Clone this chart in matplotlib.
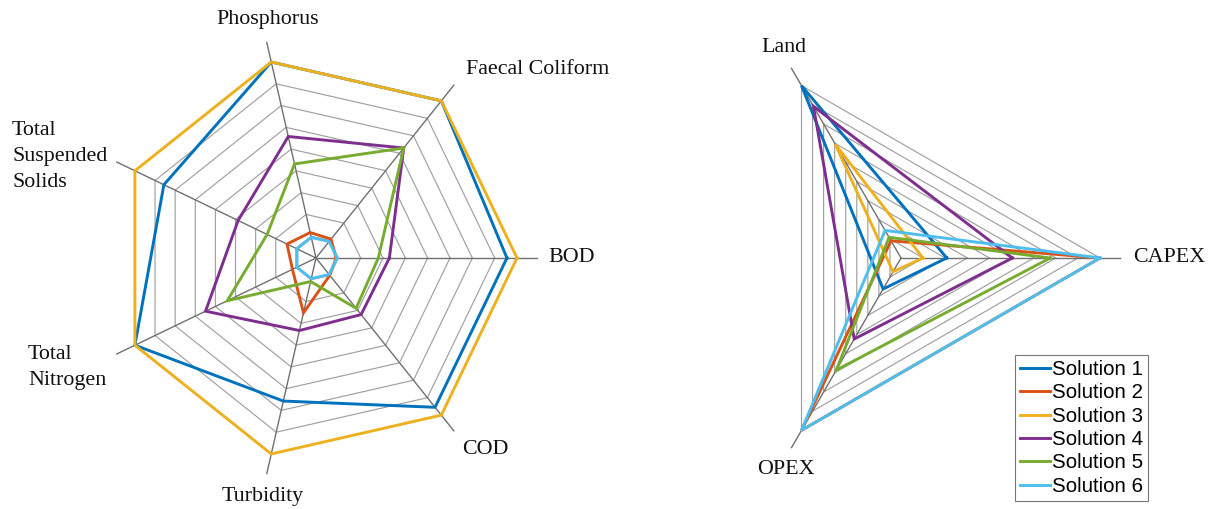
import numpy as np
import matplotlib
matplotlib.use("Agg")
import matplotlib.pyplot as plt

# left chart: water quality parameters
wq_labels = ["BOD", "Faecal Coliform", "Phosphorus", "Total\nSuspended\nSolids",
             "Total\nNitrogen", "Turbidity", "COD"]
wq_sol1 = [0.95, 1.00, 1.00, 0.84, 1.00, 0.73, 0.95]
wq_sol2 = [0.10, 0.12, 0.13, 0.16, 0.13, 0.28, 0.11]
wq_sol3 = [1.00, 1.00, 1.00, 1.00, 1.00, 1.00, 1.00]
wq_sol4 = [0.365, 0.70, 0.62, 0.43, 0.61, 0.37, 0.36]
wq_sol5 = [0.31, 0.70, 0.48, 0.27, 0.49, 0.12, 0.32]
wq_sol6 = [0.105, 0.105, 0.105, 0.105, 0.105, 0.105, 0.105]

# right chart: cost / land
cost_labels = ["CAPEX", "Land", "OPEX"]
cost_sol1 = [0.23, 1.00, 0.18]
cost_sol2 = [1.00, 0.10, 1.00]
cost_sol3 = [0.11, 0.66, 0.08]
cost_sol4 = [0.56, 0.88, 0.47]
cost_sol5 = [0.75, 0.12, 0.65]
cost_sol6 = [1.00, 0.16, 1.00]

names = ["Solution 1", "Solution 2", "Solution 3", "Solution 4", "Solution 5", "Solution 6"]
colors = ["#0072BD", "#D95319", "#EDB120", "#7E2F8E", "#77AC30", "#4DBEEE"]

W, H = 1215, 509
fig = plt.figure(figsize=(W / 100, H / 100), dpi=100)
plt.rcParams['font.family'] = ['Liberation Serif', 'DejaVu Serif']


def radar(cx, cy, R, labels, series, lab_pos, nrings=9):
    ax = fig.add_axes([0, 0, 1, 1])
    ax.set_xlim(-cx / R, (W - cx) / R)
    ax.set_ylim((cy - H) / R, cy / R)
    ax.axis("off")
    n = len(labels)
    ang = np.deg2rad(np.arange(n) * 360.0 / n)
    ca = np.append(np.cos(ang), np.cos(ang[0]))
    sa = np.append(np.sin(ang), np.sin(ang[0]))
    for k in range(1, nrings + 1):
        r = k / nrings
        ax.plot(r * ca, r * sa, color="#a0a0a0", lw=0.85, zorder=1)
    for a in ang:
        ax.plot([0, 1.1 * np.cos(a)], [0, 1.1 * np.sin(a)], color="#707070", lw=1.0, zorder=1)
    lines = []
    for vals, c, nm in zip(series, colors, names):
        v = np.append(vals, vals[0])
        ln, = ax.plot(v * ca, v * sa, color=c, lw=2.1, label=nm, zorder=2,
                      solid_joinstyle="miter")
        lines.append(ln)
    for lab, (px, py, ha) in zip(labels, lab_pos):
        ax.text((px - cx) / R, (cy - py) / R, lab, ha=ha, va="center",
                fontsize=15.8, linespacing=1.5, color="#111111")
    return lines


radar(316, 258, 201, wq_labels,
      [wq_sol1, wq_sol2, wq_sol3, wq_sol4, wq_sol5, wq_sol6],
      [(548, 258, "left"), (466, 70, "left"), (268, 20, "center"),
       (12, 157, "left"), (28, 368, "left"), (263, 497, "center"),
       (462, 450, "left")])

lines = radar(901, 258, 199, cost_labels,
              [cost_sol1, cost_sol2, cost_sol3, cost_sol4, cost_sol5, cost_sol6],
              [(1133, 258, "left"), (784, 47, "center"), (786, 470, "center")])

leg = fig.legend(handles=lines, loc="upper left",
                 bbox_to_anchor=(1015 / W, 1 - 355 / H),
                 prop={"family": "Liberation Sans", "size": 14.8},
                 handlelength=1.45, handletextpad=0.1, labelspacing=0.21,
                 borderpad=0.25, borderaxespad=0, fancybox=False,
                 edgecolor="#777777", framealpha=1)
leg.get_frame().set_linewidth(0.8)

fig.savefig("out.png", dpi=100)
